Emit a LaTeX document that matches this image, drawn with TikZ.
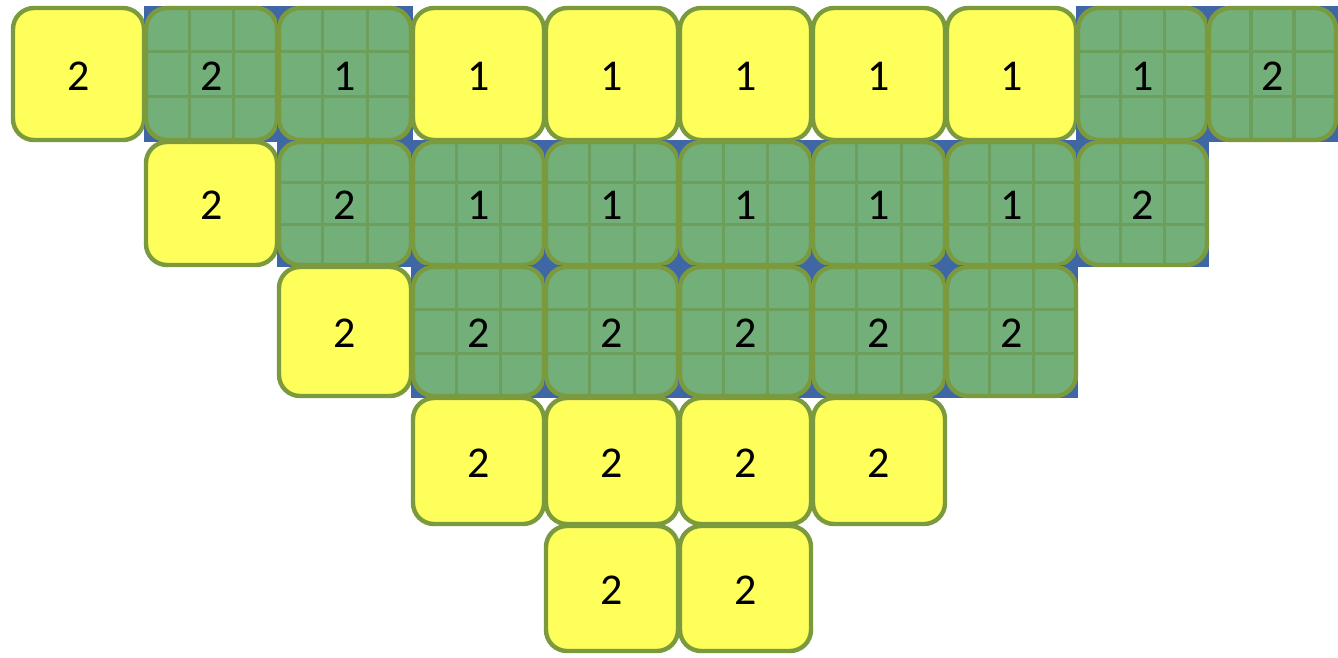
\documentclass[tikz,border=0pt]{standalone}
\usepackage{fontspec}
\setmainfont{Carlito}
\definecolor{cy}{HTML}{FFFF5C}
\definecolor{cg}{HTML}{73AF78}
\definecolor{cb}{HTML}{3F67A5}
\definecolor{cline}{HTML}{7B9A3E}
\definecolor{cgrid}{HTML}{6C9F5C}
\tikzset{
  cellshape/.style={rounded corners=21pt},
  cellborder/.style={draw=cline,line width=4.4pt,rounded corners=21pt},
  gridline/.style={draw=cgrid,line width=3.6pt},
  numtext/.style={font=\fontsize{44}{50}\selectfont,text=black,inner sep=0pt}
}
\newcommand\mkcell[4]{%
  \pgfmathsetmacro\cxa{{12,145,278,412,545,679,812,946,1077,1208,1337}[#2]}%
  \pgfmathsetmacro\cxb{{12,145,278,412,545,679,812,946,1077,1208,1337}[#2+1]}%
  \pgfmathsetmacro\cya{{7,141,266,397,525,652}[#3]}%
  \pgfmathsetmacro\cyb{{7,141,266,397,525,652}[#3+1]}%
  \pgfmathsetmacro\cxm{(\cxa+\cxb)/2}%
  \pgfmathsetmacro\cym{(\cya+\cyb)/2+2}%
  \ifx#1g%
    \fill[cb] (\cxa-1,\cya-1) rectangle (\cxb+1,\cyb+1);
    \begin{scope}
      \clip[cellshape] (\cxa+1,\cya+1) rectangle (\cxb-1,\cyb-1);
      \fill[cg] (\cxa,\cya) rectangle (\cxb,\cyb);
      \pgfmathsetmacro\gxa{\cxa+(\cxb-\cxa)/3}%
      \pgfmathsetmacro\gxb{\cxa+2*(\cxb-\cxa)/3}%
      \pgfmathsetmacro\gya{\cya+(\cyb-\cya)/3}%
      \pgfmathsetmacro\gyb{\cya+2*(\cyb-\cya)/3}%
      \draw[gridline] (\gxa,\cya) -- (\gxa,\cyb) (\gxb,\cya) -- (\gxb,\cyb)
                      (\cxa,\gya) -- (\cxb,\gya) (\cxa,\gyb) -- (\cxb,\gyb);
    \end{scope}
  \else
    \fill[cy,cellshape] (\cxa+1,\cya+1) rectangle (\cxb-1,\cyb-1);
  \fi
  \draw[cellborder] (\cxa+1,\cya+1) rectangle (\cxb-1,\cyb-1);
  \node[numtext] (t-#2-#3) at (\cxm,\cym) {#4};
}
\begin{document}
\begin{tikzpicture}[x=1pt,y=-1pt]
\useasboundingbox (0,0) rectangle (1338,657);
\fill[white] (0,0) rectangle (1338,657);
% row 0
\mkcell{y}{0}{0}{2}
\mkcell{g}{1}{0}{2}
\mkcell{g}{2}{0}{1}
\mkcell{y}{3}{0}{1}
\mkcell{y}{4}{0}{1}
\mkcell{y}{5}{0}{1}
\mkcell{y}{6}{0}{1}
\mkcell{y}{7}{0}{1}
\mkcell{g}{8}{0}{1}
\mkcell{g}{9}{0}{2}
% row 1
\mkcell{y}{1}{1}{2}
\mkcell{g}{2}{1}{2}
\mkcell{g}{3}{1}{1}
\mkcell{g}{4}{1}{1}
\mkcell{g}{5}{1}{1}
\mkcell{g}{6}{1}{1}
\mkcell{g}{7}{1}{1}
\mkcell{g}{8}{1}{2}
% row 2
\mkcell{y}{2}{2}{2}
\mkcell{g}{3}{2}{2}
\mkcell{g}{4}{2}{2}
\mkcell{g}{5}{2}{2}
\mkcell{g}{6}{2}{2}
\mkcell{g}{7}{2}{2}
% row 3
\mkcell{y}{3}{3}{2}
\mkcell{y}{4}{3}{2}
\mkcell{y}{5}{3}{2}
\mkcell{y}{6}{3}{2}
% row 4
\mkcell{y}{4}{4}{2}
\mkcell{y}{5}{4}{2}
\end{tikzpicture}
\end{document}
